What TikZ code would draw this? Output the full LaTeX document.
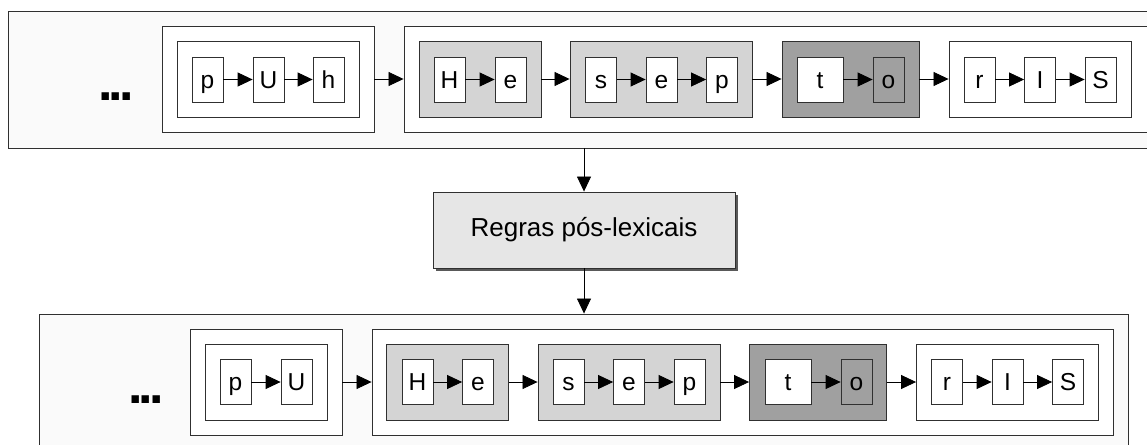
\documentclass[tikz,border=0pt]{standalone}
\usepackage{fontspec}
\setmainfont{Liberation Sans}
\usetikzlibrary{arrows.meta,shadows}
\definecolor{lightgrp}{HTML}{D4D4D4}
\definecolor{darkgrp}{HTML}{A0A0A0}
\definecolor{rulefill}{HTML}{E6E6E6}
\definecolor{edge}{HTML}{303030}
\begin{document}
\begin{tikzpicture}[x=1pt,y=-1pt,
  frame/.style={draw=edge, line width=0.9pt, inner sep=0pt, fill=white},
  lbox/.style={draw=edge, fill=white, line width=0.8pt, minimum width=31pt, minimum height=45pt,
    inner sep=0pt, text height=17.5pt, text depth=0pt, font=\fontsize{24.5}{24.5}\selectfont},
  wide/.style={minimum width=46pt},
  grp/.style={frame, minimum height=76pt},
  wrd/.style={frame, minimum height=106pt},
  arr/.style={draw=black, line width=0.8pt, -{Triangle[length=15pt,width=14pt]}},
  dots/.style={anchor=base, inner sep=0pt, font=\fontsize{52}{52}\selectfont\bfseries},
  rulebox/.style={draw=edge, fill=rulefill, line width=0.9pt, minimum width=302pt, minimum height=76pt,
    inner sep=0pt, font=\fontsize{26}{26}\selectfont,
    drop shadow={shadow xshift=3pt, shadow yshift=-3pt, fill=black!65, opacity=1}}]
\clip (0,0) rectangle (1147,444);
% ---------- top row ----------
\node[frame, minimum width=1152pt, minimum height=137pt, fill=white!98!black] (top) at (584,79.5) {};
\node[dots] (tdots) at (116,100) {.\kern-3.8pt.\kern-3.8pt.};
\node[wrd, minimum width=212pt] (tw1) at (268,79) {};
\node[grp, minimum width=182pt] (tw1i) at (268,79) {};
\node[lbox] (t1) at (207.5,79.5) {p};
\node[lbox] (t2) at (268.5,79.5) {U};
\node[lbox] (t3) at (328.5,79.5) {h};
\node[wrd, minimum width=760pt] (tw2) at (784,79) {};
\node[grp, fill=lightgrp, minimum width=122pt] (tg1) at (480,79) {};
\node[lbox] (t4) at (449.5,79.5) {H};
\node[lbox] (t5) at (510.5,79.5) {e};
\node[grp, fill=lightgrp, minimum width=182pt] (tg2) at (661,79) {};
\node[lbox] (t6) at (601,79.5) {s};
\node[lbox] (t7) at (661.5,79.5) {e};
\node[lbox] (t8) at (722,79.5) {p};
\node[grp, fill=darkgrp, minimum width=137pt] (tg3) at (850.5,79) {};
\node[lbox, wide] (t9) at (820,79.5) {t};
\node[lbox, fill=darkgrp] (t10) at (888.5,79.5) {o};
\node[grp, minimum width=182pt] (tg4) at (1040,79) {};
\node[lbox] (t11) at (979.5,79.5) {r};
\node[lbox] (t12) at (1040,79.5) {I};
\node[lbox] (t13) at (1100.5,79.5) {S};
\draw[arr] (t1) -- (t2);
\draw[arr] (t2) -- (t3);
\draw[arr] (tw1.east) -- (tw2.west);
\draw[arr] (t4) -- (t5);
\draw[arr] (tg1.east) -- (tg2.west);
\draw[arr] (t6) -- (t7);
\draw[arr] (t7) -- (t8);
\draw[arr] (tg2.east) -- (tg3.west);
\draw[arr] (t9) -- (t10);
\draw[arr] (tg3.east) -- (tg4.west);
\draw[arr] (t11) -- (t12);
\draw[arr] (t12) -- (t13);
% ---------- rule box ----------
\node[rulebox] (rules) at (584,230) {Regras pós-lexicais};
\draw[arr] (rules.north |- top.south) -- (rules.north);
% ---------- bottom row ----------
\node[frame, minimum width=1089pt, minimum height=146pt, fill=white!98!black] (bot) at (583.5,387) {};
\draw[arr] (rules.south) -- (rules.south |- bot.north);
\node[dots] (bdots) at (146,403) {.\kern-3.8pt.\kern-3.8pt.};
\node[wrd, minimum width=152pt] (bw1) at (266,382) {};
\node[grp, minimum width=122pt] (bw1i) at (266,382) {};
\node[lbox] (b1) at (235.5,382) {p};
\node[lbox] (b2) at (296.5,382) {U};
\node[wrd, minimum width=741pt] (bw2) at (742.5,382) {};
\node[grp, fill=lightgrp, minimum width=122pt] (bg1) at (447.5,382) {};
\node[lbox] (b4) at (417.5,382) {H};
\node[lbox] (b5) at (478,382) {e};
\node[grp, fill=lightgrp, minimum width=182pt] (bg2) at (629,382) {};
\node[lbox] (b6) at (568.5,382) {s};
\node[lbox] (b7) at (629,382) {e};
\node[lbox] (b8) at (689.5,382) {p};
\node[grp, fill=darkgrp, minimum width=137pt] (bg3) at (818,382) {};
\node[lbox, wide] (b9) at (788,382) {t};
\node[lbox, fill=darkgrp] (b10) at (856.5,382) {o};
\node[grp, minimum width=182pt] (bg4) at (1007.5,382) {};
\node[lbox] (b11) at (947,382) {r};
\node[lbox] (b12) at (1007.5,382) {I};
\node[lbox] (b13) at (1068,382) {S};
\draw[arr] (b1) -- (b2);
\draw[arr] (bw1.east) -- (bw2.west);
\draw[arr] (b4) -- (b5);
\draw[arr] (bg1.east) -- (bg2.west);
\draw[arr] (b6) -- (b7);
\draw[arr] (b7) -- (b8);
\draw[arr] (bg2.east) -- (bg3.west);
\draw[arr] (b9) -- (b10);
\draw[arr] (bg3.east) -- (bg4.west);
\draw[arr] (b11) -- (b12);
\draw[arr] (b12) -- (b13);
\end{tikzpicture}
\end{document}
